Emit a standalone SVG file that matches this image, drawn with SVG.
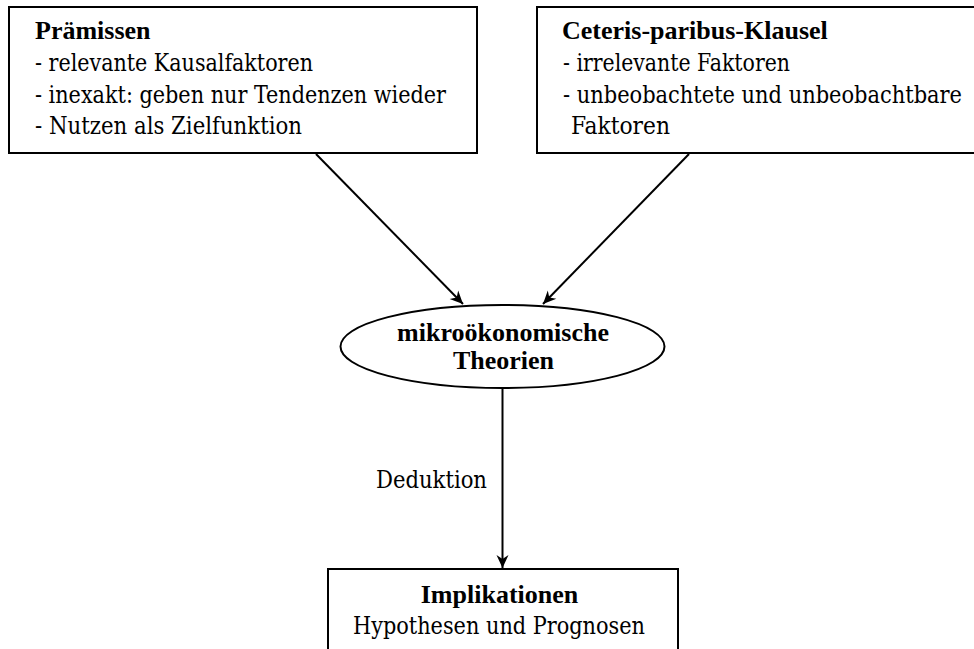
<svg xmlns="http://www.w3.org/2000/svg" width="974" height="649" viewBox="0 0 974 649">
<style>
  .box { fill: #fff; stroke: #000; stroke-width: 2; }
  .t { font-family: 'Liberation Serif', 'DejaVu Serif', serif; font-size: 26px; fill: #000; }
  .r { font-family: 'DejaVu Serif Condensed', 'DejaVu Serif', serif; font-size: 24px; fill: #000; }
  .b { font-weight: bold; }
  .c { text-anchor: middle; }
  .edge { stroke: #000; stroke-width: 2; fill: none; marker-end: url(#arr); }
</style>
<defs>
  <marker id="arr" viewBox="-14 -7 16 14" refX="0" refY="0" markerWidth="16" markerHeight="14" markerUnits="userSpaceOnUse" orient="auto">
    <path d="M0,0 L-13,-6 L-9,0 L-13,6 Z" fill="#000"/>
  </marker>
</defs>
<rect width="974" height="649" fill="#fff"/>
<g id="connectors">
  <line class="edge" x1="316" y1="154" x2="463" y2="304"/>
  <line class="edge" x1="689" y1="154" x2="543" y2="304"/>
  <line class="edge" x1="502.5" y1="388" x2="502.5" y2="568"/>
  <text class="r" x="376" y="488" textLength="111" lengthAdjust="spacingAndGlyphs">Deduktion</text>
</g>
<g id="praemissen">
  <rect class="box" x="9" y="7" width="468" height="146"/>
  <text class="t b" x="35" y="39">Prämissen</text>
  <text class="r" x="35" y="71" textLength="278" lengthAdjust="spacingAndGlyphs">- relevante Kausalfaktoren</text>
  <text class="r" x="35" y="102.5" textLength="411" lengthAdjust="spacingAndGlyphs">- inexakt: geben nur Tendenzen wieder</text>
  <text class="r" x="35" y="134" textLength="267" lengthAdjust="spacingAndGlyphs">- Nutzen als Zielfunktion</text>
</g>
<g id="ceteris">
  <rect class="box" x="537" y="7" width="450" height="146"/>
  <text class="t b" x="562" y="39">Ceteris-paribus-Klausel</text>
  <text class="r" x="563" y="71" textLength="227" lengthAdjust="spacingAndGlyphs">- irrelevante Faktoren</text>
  <text class="r" x="563" y="102.5" textLength="399" lengthAdjust="spacingAndGlyphs">- unbeobachtete und unbeobachtbare</text>
  <text class="r" x="571" y="134" textLength="99" lengthAdjust="spacingAndGlyphs">Faktoren</text>
</g>
<g id="theorien">
  <ellipse class="box" cx="502.5" cy="346.5" rx="162" ry="41.5"/>
  <text class="t b c" x="503" y="341">mikroökonomische</text>
  <text class="t b c" x="503.5" y="368.5">Theorien</text>
</g>
<g id="implikationen">
  <rect class="box" x="328" y="569" width="350" height="100"/>
  <text class="t b c" x="499.5" y="603">Implikationen</text>
  <text class="r" x="353" y="634" textLength="292" lengthAdjust="spacingAndGlyphs">Hypothesen und Prognosen</text>
</g>
</svg>
